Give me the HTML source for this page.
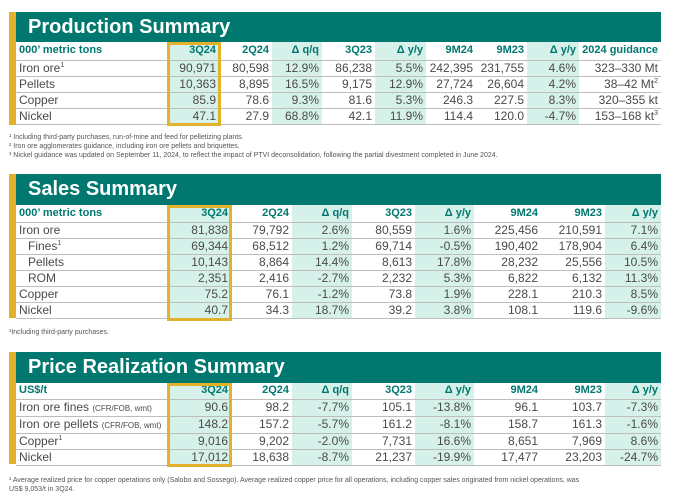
<!DOCTYPE html>
<html><head><meta charset="utf-8"><style>
*{margin:0;padding:0;box-sizing:border-box}
body{width:683px;height:502px;background:#fff;font-family:"Liberation Sans",sans-serif;position:relative;overflow:hidden;color:#4a4a4a}
.bar{position:absolute;left:9px;width:7px;background:#e3b12a}
.hd{position:absolute;left:16px;width:645px;background:#00786f;color:#fff;font-weight:bold;font-size:20px;padding-left:12px}
table{position:absolute;left:16px;border-collapse:collapse;table-layout:fixed;font-size:12px}
td{height:16px;border-bottom:1px solid #bdbdbd;text-align:right;padding-right:3px;white-space:nowrap;line-height:15px}
td:first-child{text-align:left;padding-left:3px}
tr.h td{color:#00786f;font-weight:bold;font-size:11px}
.s{background:#d6f0ea}
.box{position:absolute;border:3px solid #e3b12a}
.fn{position:absolute;left:9px;font-size:7px;color:#555;line-height:9px}
sup{font-size:7px;line-height:0}
small{font-size:8px}
</style></head><body>

<div class="bar" style="top:12px;height:113px"></div>
<div class="hd" style="top:12px;height:30px;line-height:30px">Production Summary</div>
<table style="top:42px;width:645px">
<colgroup><col style="width:152px"><col style="width:51px"><col style="width:53px"><col style="width:50px"><col style="width:53px"><col style="width:51px"><col style="width:50px"><col style="width:51px"><col style="width:52px"><col style="width:82px"></colgroup>
<tr class="h"><td style="height:18px">000’ metric tons</td><td class="s">3Q24</td><td>2Q24</td><td class="s">Δ q/q</td><td>3Q23</td><td class="s">Δ y/y</td><td>9M24</td><td>9M23</td><td class="s">Δ y/y</td><td>2024 guidance</td></tr>
<tr><td>Iron ore<sup>1</sup></td><td class="s">90,971</td><td>80,598</td><td class="s">12.9%</td><td>86,238</td><td class="s">5.5%</td><td>242,395</td><td>231,755</td><td class="s">4.6%</td><td>323–330 Mt</td></tr>
<tr><td>Pellets</td><td class="s">10,363</td><td>8,895</td><td class="s">16.5%</td><td>9,175</td><td class="s">12.9%</td><td>27,724</td><td>26,604</td><td class="s">4.2%</td><td>38–42 Mt<sup>2</sup></td></tr>
<tr><td>Copper</td><td class="s">85.9</td><td>78.6</td><td class="s">9.3%</td><td>81.6</td><td class="s">5.3%</td><td>246.3</td><td>227.5</td><td class="s">8.3%</td><td>320–355 kt</td></tr>
<tr><td>Nickel</td><td class="s">47.1</td><td>27.9</td><td class="s">68.8%</td><td>42.1</td><td class="s">11.9%</td><td>114.4</td><td>120.0</td><td class="s">-4.7%</td><td>153–168 kt<sup>3</sup></td></tr>
</table>
<div class="box" style="left:167px;top:42px;width:54px;height:84px"></div>
<div class="fn" style="top:133px">¹ Including third-party purchases, run-of-mine and feed for pelletizing plants.<br>² Iron ore agglomerates guidance, including iron ore pellets and briquettes.<br>³ Nickel guidance was updated on September 11, 2024, to reflect the impact of PTVI deconsolidation, following the partial divestment completed in June 2024.</div>

<div class="bar" style="top:174px;height:144px"></div>
<div class="hd" style="top:174px;height:31px;line-height:30px">Sales Summary</div>
<table style="top:205px;width:645px">
<colgroup><col style="width:152px"><col style="width:63px"><col style="width:61px"><col style="width:60px"><col style="width:63px"><col style="width:59px"><col style="width:67px"><col style="width:64px"><col style="width:56px"></colgroup>
<tr class="h"><td style="height:17px">000’ metric tons</td><td class="s">3Q24</td><td>2Q24</td><td class="s">Δ q/q</td><td>3Q23</td><td class="s">Δ y/y</td><td>9M24</td><td>9M23</td><td class="s">Δ y/y</td></tr>
<tr><td>Iron ore</td><td class="s">81,838</td><td>79,792</td><td class="s">2.6%</td><td>80,559</td><td class="s">1.6%</td><td>225,456</td><td>210,591</td><td class="s">7.1%</td></tr>
<tr><td style="padding-left:12px">Fines<sup>1</sup></td><td class="s">69,344</td><td>68,512</td><td class="s">1.2%</td><td>69,714</td><td class="s">-0.5%</td><td>190,402</td><td>178,904</td><td class="s">6.4%</td></tr>
<tr><td style="padding-left:12px">Pellets</td><td class="s">10,143</td><td>8,864</td><td class="s">14.4%</td><td>8,613</td><td class="s">17.8%</td><td>28,232</td><td>25,556</td><td class="s">10.5%</td></tr>
<tr><td style="padding-left:12px">ROM</td><td class="s">2,351</td><td>2,416</td><td class="s">-2.7%</td><td>2,232</td><td class="s">5.3%</td><td>6,822</td><td>6,132</td><td class="s">11.3%</td></tr>
<tr><td>Copper</td><td class="s">75.2</td><td>76.1</td><td class="s">-1.2%</td><td>73.8</td><td class="s">1.9%</td><td>228.1</td><td>210.3</td><td class="s">8.5%</td></tr>
<tr><td>Nickel</td><td class="s">40.7</td><td>34.3</td><td class="s">18.7%</td><td>39.2</td><td class="s">3.8%</td><td>108.1</td><td>119.6</td><td class="s">-9.6%</td></tr>
</table>
<div class="box" style="left:167px;top:205px;width:65px;height:116px"></div>
<div class="fn" style="top:328px">¹Including third-party purchases.</div>

<div class="bar" style="top:352px;height:112px"></div>
<div class="hd" style="top:352px;height:31px;line-height:31px">Price Realization Summary</div>
<table style="top:383px;width:645px">
<colgroup><col style="width:152px"><col style="width:63px"><col style="width:61px"><col style="width:60px"><col style="width:63px"><col style="width:59px"><col style="width:67px"><col style="width:64px"><col style="width:56px"></colgroup>
<tr class="h"><td>US$/t</td><td class="s">3Q24</td><td>2Q24</td><td class="s">Δ q/q</td><td>3Q23</td><td class="s">Δ y/y</td><td>9M24</td><td>9M23</td><td class="s">Δ y/y</td></tr>
<tr><td>Iron ore fines <small>(CFR/FOB, wmt)</small></td><td class="s">90.6</td><td>98.2</td><td class="s">-7.7%</td><td>105.1</td><td class="s">-13.8%</td><td>96.1</td><td>103.7</td><td class="s">-7.3%</td></tr>
<tr><td>Iron ore pellets <small>(CFR/FOB, wmt)</small></td><td class="s">148.2</td><td>157.2</td><td class="s">-5.7%</td><td>161.2</td><td class="s">-8.1%</td><td>158.7</td><td>161.3</td><td class="s">-1.6%</td></tr>
<tr><td>Copper<sup>1</sup></td><td class="s">9,016</td><td>9,202</td><td class="s">-2.0%</td><td>7,731</td><td class="s">16.6%</td><td>8,651</td><td>7,969</td><td class="s">8.6%</td></tr>
<tr><td>Nickel</td><td class="s">17,012</td><td>18,638</td><td class="s">-8.7%</td><td>21,237</td><td class="s">-19.9%</td><td>17,477</td><td>23,203</td><td class="s">-24.7%</td></tr>
</table>
<div class="box" style="left:167px;top:383px;width:65px;height:84px"></div>
<div class="fn" style="top:476px">¹ Average realized price for copper operations only (Salobo and Sossego). Average realized copper price for all operations, including copper sales originated from nickel operations, was<br>US$ 9,053/t in 3Q24.</div>
</body></html>
